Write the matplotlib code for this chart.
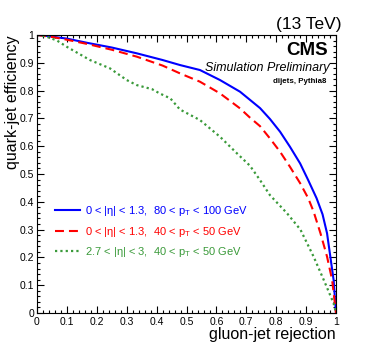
import matplotlib
matplotlib.use("Agg")
import matplotlib.pyplot as plt
from matplotlib.ticker import MultipleLocator, FormatStrFormatter

plt.rcParams['font.family'] = ['Liberation Sans', 'DejaVu Sans']
plt.rcParams['mathtext.fontset'] = 'custom'
plt.rcParams['mathtext.rm'] = 'Liberation Sans'
plt.rcParams['mathtext.it'] = 'Liberation Sans:italic'
plt.rcParams['mathtext.bf'] = 'Liberation Sans:bold'
plt.rcParams['mathtext.default'] = 'regular'

# ROC curves: gluon-jet rejection vs quark-jet efficiency
central_hi_rej = [0, 0.03, 0.1, 0.167, 0.25, 0.334, 0.42, 0.478, 0.545, 0.612,
                  0.679, 0.746, 0.779, 0.813, 0.846, 0.880, 0.907, 0.935, 0.955,
                  0.97, 0.981, 0.992, 1.0]
central_hi_eff = [1.0, 0.997, 0.987, 0.972, 0.955, 0.934, 0.91, 0.892, 0.874, 0.838,
                  0.796, 0.737, 0.698, 0.652, 0.598, 0.538, 0.478, 0.413, 0.355,
                  0.287, 0.203, 0.119, 0.0]

central_lo_rej = [0, 0.05, 0.1, 0.167, 0.25, 0.334, 0.42, 0.478, 0.545, 0.612,
                  0.679, 0.712, 0.746, 0.779, 0.813, 0.846, 0.880, 0.907, 0.925,
                  0.948, 0.97, 0.987, 1.0]
central_lo_eff = [1.0, 0.993, 0.983, 0.968, 0.947, 0.922, 0.89, 0.862, 0.832, 0.79,
                  0.736, 0.703, 0.672, 0.628, 0.580, 0.526, 0.467, 0.413, 0.365,
                  0.287, 0.203, 0.119, 0.0]

forward_rej = [0, 0.032, 0.067, 0.099, 0.177, 0.244, 0.30, 0.333, 0.385, 0.41,
               0.446, 0.478, 0.545, 0.612, 0.669, 0.712, 0.746, 0.779, 0.836,
               0.881, 0.925, 0.959, 0.992, 1.0]
forward_eff = [1.0, 0.994, 0.98, 0.958, 0.91, 0.88, 0.838, 0.82, 0.805, 0.79,
               0.772, 0.732, 0.694, 0.634, 0.574, 0.530, 0.478, 0.424, 0.359,
               0.30, 0.203, 0.119, 0.035, 0.0]

labels = ['0 < |η| < 1.3,  80 < p$_{T}$ < 100 GeV',
          '0 < |η| < 1.3,  40 < p$_{T}$ < 50 GeV',
          '2.7 < |η| < 3,  40 < p$_{T}$ < 50 GeV']

fig = plt.figure(figsize=(3.74, 3.5), dpi=100)
ax = fig.add_axes([37 / 374, 37 / 350, 299 / 374, 278 / 350])

ax.plot(central_hi_rej, central_hi_eff, color='#0000ff', lw=1.5, label=labels[0])
ax.plot(central_lo_rej, central_lo_eff, color='#ff0000', lw=1.5,
        dashes=(4.3, 2.4), label=labels[1])
ax.plot(forward_rej, forward_eff, color='#3a9a3a', lw=1.6,
        dashes=(1.0, 1.4), label=labels[2])

ax.set_xlim(0, 1)
ax.set_ylim(0, 1)

# ROOT-like ticks: inside, on all four sides
for axis in (ax.xaxis, ax.yaxis):
    axis.set_major_locator(MultipleLocator(0.1))
    axis.set_minor_locator(MultipleLocator(0.02))
    axis.set_major_formatter(FormatStrFormatter('%g'))
ax.tick_params(which='both', direction='in', top=True, right=True,
               labelsize=7.5, width=0.8)
ax.tick_params(which='major', length=5)
ax.tick_params(which='minor', length=2.5)
ax.tick_params(axis='x', pad=3)
ax.tick_params(axis='y', pad=2)
for sp in ax.spines.values():
    sp.set_linewidth(0.8)

ax.set_xlabel('gluon-jet rejection', fontsize=11.5, loc='right', labelpad=0)
ax.set_ylabel('quark-jet efficiency', fontsize=11.5, loc='top', labelpad=0)

leg = ax.legend(loc='center left', bbox_to_anchor=(0.06, 0.293), frameon=False,
                fontsize=8, handlelength=2.3, handletextpad=0.45,
                labelspacing=0.6, borderpad=0, borderaxespad=0,
                labelcolor='linecolor')

ax.text(1.02, 1.022, '(13 TeV)', transform=ax.transAxes, ha='right',
        va='baseline', fontsize=12.5)
ax.text(0.973, 0.928, 'CMS', transform=ax.transAxes, ha='right',
        va='baseline', fontsize=13.5, fontweight='bold')
ax.text(0.977, 0.870, 'Simulation Preliminary', transform=ax.transAxes,
        ha='right', va='baseline', fontsize=9, style='italic')
ax.text(0.967, 0.828, 'dijets, Pythia8', transform=ax.transAxes, ha='right',
        va='baseline', fontsize=5.7, fontweight='bold')

fig.savefig('out.png', dpi=100)
